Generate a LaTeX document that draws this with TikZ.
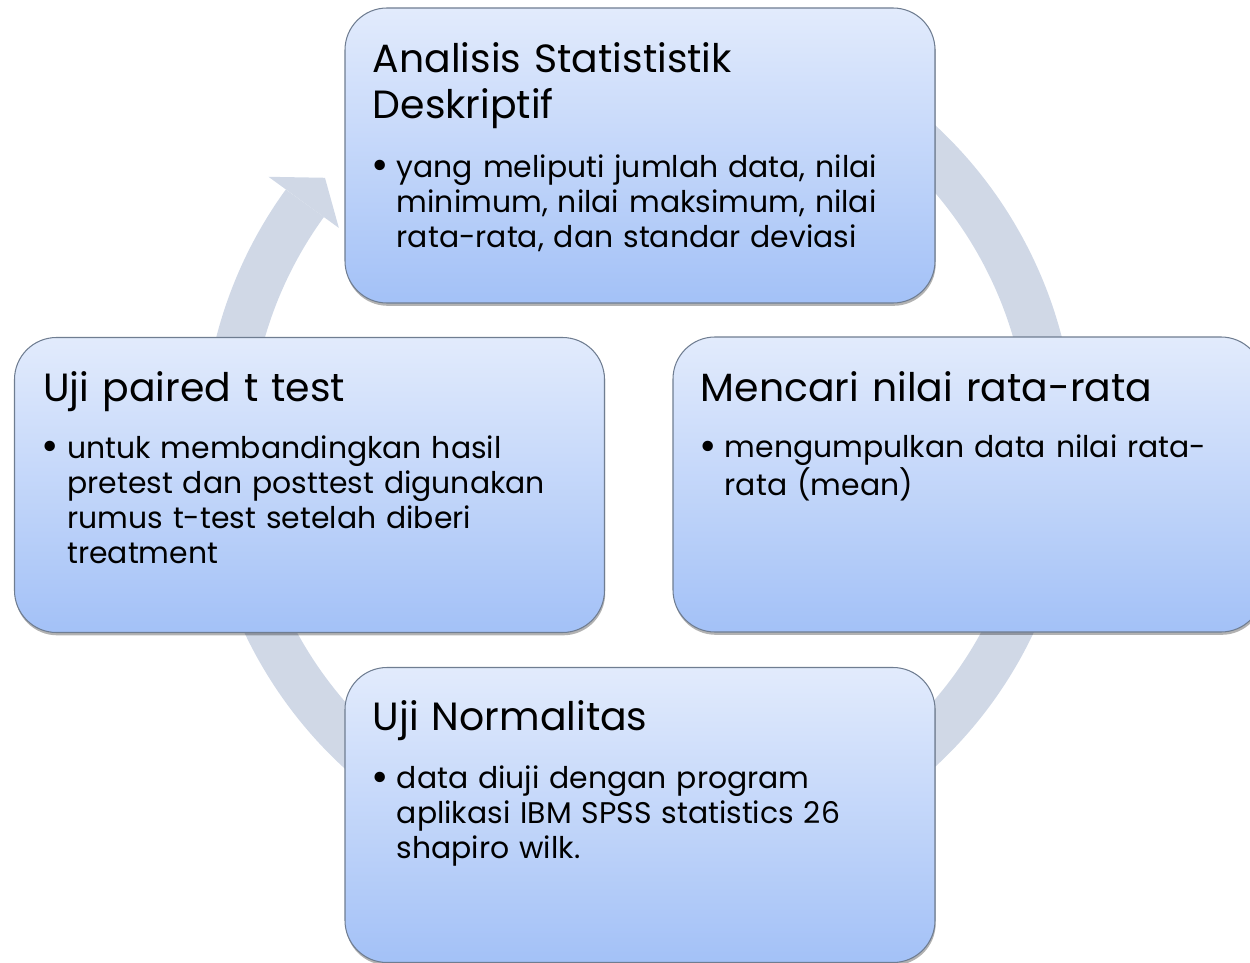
\documentclass[tikz,border=0pt]{standalone}
\usepackage{fontspec}
\setmainfont{Poppins}
\usetikzlibrary{positioning,shadows,calc}
\definecolor{ink}{HTML}{000000}
\definecolor{ringfill}{HTML}{D0D8E6}
\definecolor{boxtop}{HTML}{E2EBFC}
\definecolor{boxbot}{HTML}{A3C1F7}
\definecolor{edge}{HTML}{6F7D91}

\newcommand{\itembul}[1]{\makebox[0.42cm][l]{\hspace{-2.5pt}\raisebox{-1.4pt}{\fontsize{24}{24}\selectfont\textbullet}}\parbox[t]{10.4cm}{\raggedright #1}}

\begin{document}
\begin{tikzpicture}[
  stepbox/.style={rounded corners=0.84cm, draw=edge, line width=0.6pt, top color=boxtop, bottom color=boxbot, minimum width=11.8cm, minimum height=5.9cm, drop shadow={shadow xshift=0.4pt, shadow yshift=-1.6pt, opacity=0.3, fill=black}},
  htitle/.style={anchor=base west, inner sep=0pt, align=left, text width=11cm, text=ink, font=\fontsize{22.4}{26.2}\selectfont},
  hbody/.style={anchor=base west, inner sep=0pt, align=left, text width=10.9cm, text=ink, font=\fontsize{17}{19.92}\selectfont},
  cycle/.style={draw=ringfill, line width=0.94cm},
]
\useasboundingbox (0,0) rectangle (25,-19.26);

% cycle arrow behind the boxes
\coordinate (c) at (12.78,-8.92);
\draw[cycle] (c) ++(120:8.26) arc[start angle=120, end angle=-216, radius=8.26];
\fill[ringfill] ($(c)+(144:9.16)$) -- ($(c)+(139.5:8.26)$) -- ($(c)+(144:7.42)$) -- cycle;

\node[stepbox] (desk) at (12.8,-3.11) {};
\node[stepbox] (mean) at (19.36,-9.69) {};
\node[stepbox] (norm) at (12.8,-16.3) {};
\node[stepbox] (paired) at (6.19,-9.70) {};

\node[htitle] (desk-t) at ([shift={(0.56,-1.30)}]desk.north west) {Analisis Statististik\\Deskriptif};
\node[hbody] (desk-b) at ([shift={(0.62,-3.40)}]desk.north west)
  {\itembul{yang meliputi jumlah data, nilai\\minimum, nilai maksimum, nilai\\rata-rata, dan standar deviasi}};

\node[htitle] (mean-t) at ([shift={(0.56,-1.30)}]mean.north west) {Mencari nilai rata-rata};
\node[hbody] (mean-b) at ([shift={(0.62,-2.43)}]mean.north west)
  {\itembul{mengumpulkan data nilai rata-\\rata (mean)}};

\node[htitle] (norm-t) at ([shift={(0.56,-1.28)}]norm.north west) {Uji Normalitas};
\node[hbody] (norm-b) at ([shift={(0.62,-2.44)}]norm.north west)
  {\itembul{data diuji dengan program\\aplikasi IBM SPSS statistics 26\\shapiro wilk.}};

\node[htitle] (paired-t) at ([shift={(0.58,-1.30)}]paired.north west) {Uji paired t test};
\node[hbody] (paired-b) at ([shift={(0.64,-2.43)}]paired.north west)
  {\itembul{untuk membandingkan hasil\\pretest dan posttest digunakan\\rumus t-test setelah diberi\\treatment}};
\end{tikzpicture}
\end{document}
